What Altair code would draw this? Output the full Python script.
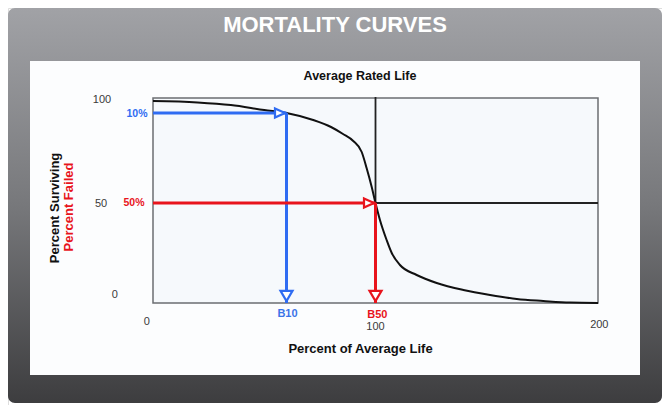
import altair as alt
import pandas as pd

# ---- data ----
life_pct = [0, 20, 35, 50, 60, 72, 80, 85.4, 90, 93.8, 96, 98.3, 100, 102, 105,
            107.3, 111, 118.5, 127.5, 139.5, 151.5, 163.5, 175.4, 187.4, 200]
surviving = [101, 100.3, 99, 96.5, 95, 91.5, 88, 84.5, 81, 75.5, 67.5, 58, 50, 41.5,
             31.5, 25, 19, 14, 10, 6.5, 4, 2, 1, 0.2, 0]
y_ticks = [100, 50, 0]
x_ticks = [0, 100, 200]
b10_life, b10_surv = 60, 95
b50_life, b50_surv = 100, 50
x_max = 200
y_box_top = 102.5

BLUE = "#2f6cf2"
RED = "#e8141c"
FONT = "Liberation Sans"

xs = alt.Scale(domain=[0, 200], range=[145, 590], nice=False)
ys = alt.Scale(domain=[0, 100], range=[295, 95], nice=False)

one = pd.DataFrame({"a": [0]})


def X(f):
    return alt.X(f, type="quantitative", scale=xs, axis=None)


def Y(f):
    return alt.Y(f, type="quantitative", scale=ys, axis=None)


def X2(f):
    return alt.X2(f)


def Y2(f):
    return alt.Y2(f)


layers = []

# outer gradient frame
grad = alt.Gradient(
    gradient="linear",
    stops=[alt.GradientStop(offset=0, color="#a1a2a6"),
           alt.GradientStop(offset=0.5, color="#77787b"),
           alt.GradientStop(offset=1, color="#3d3d3f")],
    x1=0, x2=0, y1=0, y2=1)
layers.append(alt.Chart(one).mark_rect(color=grad, cornerRadius=7).encode(
    x=alt.value(0), x2=alt.value(654), y=alt.value(0), y2=alt.value(395)))

# white inner panel
layers.append(alt.Chart(one).mark_rect(color="#fcfdfe").encode(
    x=alt.value(22), x2=alt.value(632), y=alt.value(53), y2=alt.value(367)))

# main title
layers.append(alt.Chart(one).mark_text(
    text="MORTALITY CURVES", font=FONT, fontWeight="bold",
    fontSize=22, color="white", align="center", baseline="alphabetic").encode(
    x=alt.value(327), y=alt.value(23.7)))

# plot box
box = pd.DataFrame({"x0": [0], "x1": [x_max], "y0": [0], "y1": [y_box_top]})
layers.append(alt.Chart(box).mark_rect(fill="#f6f9fc", stroke="#6b6e72", strokeWidth=1.5).encode(
    x=X("x0"), x2=X2("x1"), y=Y("y0"), y2=Y2("y1")))

# black reference lines at B50
blk = pd.DataFrame({"x0": [b50_life, b50_life], "x1": [b50_life, x_max],
                    "y0": [b50_surv, b50_surv], "y1": [103, b50_surv]})
layers.append(alt.Chart(blk).mark_rule(color="#222", strokeWidth=1.8).encode(
    x=X("x0"), x2=X2("x1"), y=Y("y0"), y2=Y2("y1")))

# curve
curve = pd.DataFrame({"life": life_pct, "surv": surviving})
layers.append(alt.Chart(curve).mark_line(color="#111", strokeWidth=2, interpolate="monotone").encode(
    x=X("life"), y=Y("surv")))

# blue and red guide lines
for life, surv, col in [(b10_life, b10_surv, BLUE), (b50_life, b50_surv, RED)]:
    d = pd.DataFrame({"x0": [0, life], "x1": [life, life],
                      "y0": [surv, surv], "y1": [surv, 0]})
    layers.append(alt.Chart(d).mark_rule(color=col, strokeWidth=3).encode(
        x=X("x0"), x2=X2("x1"), y=Y("y0"), y2=Y2("y1")))
    pr = pd.DataFrame({"x": [life], "y": [surv]})
    layers.append(alt.Chart(pr).mark_point(
        shape="M-1,-0.9L1,0L-1,0.9Z", size=100, filled=True, fill="white", stroke=col,
        strokeWidth=2.2, opacity=1, xOffset=-6.5).encode(x=X("x"), y=Y("y")))
    pd_ = pd.DataFrame({"x": [life], "y": [0]})
    layers.append(alt.Chart(pd_).mark_point(
        shape="M-1,-0.85L1,-0.85L0,0.85Z", size=144, filled=True, fill="white", stroke=col,
        strokeWidth=2.2, opacity=1, yOffset=-7).encode(x=X("x"), y=Y("y")))

# percentage labels on the left
layers.append(alt.Chart(pd.DataFrame({"y": [b10_surv], "t": ["10%"]})).mark_text(
    font=FONT, fontWeight="bold", fontSize=10.5, color=BLUE, align="center", baseline="middle", dy=1).encode(
    x=alt.value(129), y=Y("y"), text="t:N"))
layers.append(alt.Chart(pd.DataFrame({"y": [b50_surv], "t": ["50%"]})).mark_text(
    font=FONT, fontWeight="bold", fontSize=10.5, color=RED, align="center", baseline="middle").encode(
    x=alt.value(126), y=Y("y"), text="t:N"))

# B10 / B50 labels
layers.append(alt.Chart(pd.DataFrame({"x": [b10_life], "t": ["B10"]})).mark_text(
    font=FONT, fontWeight="bold", fontSize=11, color="#3b74e8", align="center", baseline="middle", dx=1).encode(
    x=X("x"), y=alt.value(306), text="t:N"))
layers.append(alt.Chart(pd.DataFrame({"x": [b50_life], "t": ["B50"]})).mark_text(
    font=FONT, fontWeight="bold", fontSize=11, color=RED, align="center", baseline="middle", dx=1).encode(
    x=alt.value(368.3), y=alt.value(307), text="t:N"))

# y tick labels (as drawn, slightly irregular)
y_off = {100: (94, 0.3), 50: (93, 3.7), 0: (106.7, -5.3)}
for v in y_ticks:
    xx, dy = y_off[v]
    layers.append(alt.Chart(pd.DataFrame({"y": [v], "t": [str(v)]})).mark_text(
        font=FONT, fontSize=11, color="#3a3a3a", align="center", baseline="alphabetic", dy=dy).encode(
        x=alt.value(xx), y=Y("y"), text="t:N"))

# x tick labels
x_off = {0: (-6.3, 317), 100: (0, 322), 200: (1.3, 320.3)}
for v in x_ticks:
    dx, yy = x_off[v]
    layers.append(alt.Chart(pd.DataFrame({"x": [v], "t": [str(v)]})).mark_text(
        font=FONT, fontSize=11, color="#3a3a3a", align="center", baseline="alphabetic", dx=dx).encode(
        x=X("x"), y=alt.value(yy), text="t:N"))

# titles
layers.append(alt.Chart(one).mark_text(
    text="Average Rated Life", font=FONT, fontWeight="bold", fontSize=12.5, color="#111",
    align="center", baseline="alphabetic").encode(x=alt.value(352), y=alt.value(72)))
layers.append(alt.Chart(one).mark_text(
    text="Percent of Average Life", font=FONT, fontWeight="bold", fontSize=13, color="#111",
    align="center", baseline="alphabetic").encode(x=alt.value(352.5), y=alt.value(344.7)))
layers.append(alt.Chart(one).mark_text(
    text="Percent Surviving", font=FONT, fontWeight="bold", fontSize=13, color="#111",
    align="center", baseline="middle", angle=270).encode(x=alt.value(47), y=alt.value(200)))
layers.append(alt.Chart(one).mark_text(
    text="Percent Failed", font=FONT, fontWeight="bold", fontSize=13, color=RED,
    align="center", baseline="middle", angle=270).encode(x=alt.value(61), y=alt.value(199)))

chart = alt.layer(*layers).properties(
    width=654, height=397, autosize=alt.AutoSizeParams(type="none"), padding=0
).configure_view(stroke=None).configure(background="white")

chart.save("out.html", embed_options={"renderer": "svg", "actions": False})
